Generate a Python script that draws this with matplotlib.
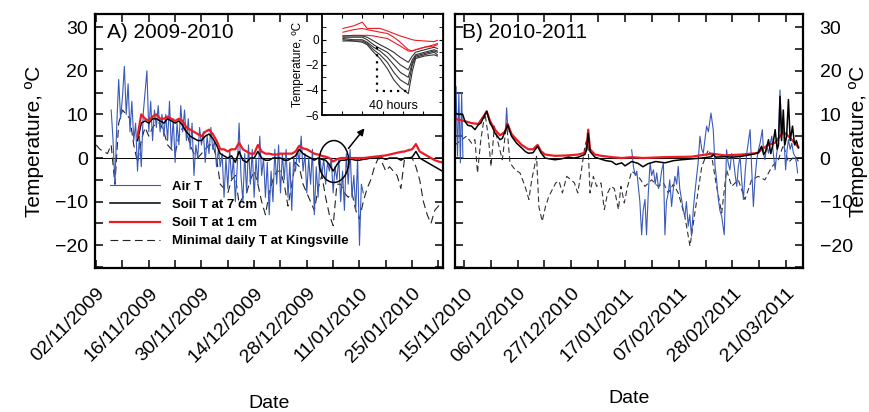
import numpy as np
import pandas as pd
import matplotlib
matplotlib.use('Agg')
import matplotlib.pyplot as plt
from matplotlib.patches import Ellipse
import matplotlib.dates as mdates

plt.rcParams['font.family'] = ['Liberation Sans', 'DejaVu Sans']

# ---------------- panel A, 2009-2010 (days from 02/11/2009)
start_a = pd.Timestamp('2009-11-02')
air_a_first = 4.0      # air T read every half day from here
air_a = [11, 4, -6, 8, 18, 9, 14, 21, 10, 17,
         6, 13, 4, 8, -3, 5, -2, 10, 15, 20,
         6, 13, 4, 11, 7, 12, 6, 10, 5, 10,
         4, 13, 2, 9, -1, 8, 3, 12, 6, 11,
         4, 9, 2, 8, -4, 3, 0, 7, 3, 6,
         -1, 5, 1, 7, 2, 4, -2, 2, -2, 1,
         -9, 0, -7, 2, -5, 0, -10, -2, 8, -4,
         -10, 1, -8, 3, -6, 2, -9, 0, -6, 5,
         -4, 0, -9, -1, -13, -3, -10, 2, -6, 3,
         -8, 1, -5, 2, -9, -1, -12, 0, -3, 2,
         -1, 5, -3, 1, -8, 0, -6, 2, -13, -2,
         -9, 0, -4, 0, -6, -1, -3, 0, -8, -2,
         -5, 0, -10, -3, -12, 1, -6, 2, -9, -4,
         -12, 0, -20, -6, -8]
soil_a_first = 11      # soil T read daily from here
soil1_a = [5, 10, 9, 8.5, 9.5, 10, 9, 9, 9.5, 9,
           8.5, 9, 8.5, 7, 6.5, 6, 5.5, 5, 6, 6.5,
           5.5, 4, 2, 2, 1.5, 2, 2, 3.5, 2, 1.5,
           1, 1, 3, 1.5, 1, 1, 0.8, 0.8, 1, 1,
           1, 1, 1.5, 2.8, 2.2, 2, 1.5, 1, 0.8, 0.5,
           0.3, 0, -0.8, -0.3, 0, 0, 0, 0, 0, 0,
           0, 0.1, 0.2, 0.3, 0.4, 0.5, 0.6, 0.8, 1, 1.2,
           1.4, 1.5, 1.8, 2, 3.2, 1.5, 1, 0.5, 0, -0.5,
           -0.8, -1]
soil7_a = [4, 8, 8.5, 8, 9, 9, 8.5, 8, 9, 8.5,
           8, 8.5, 7.5, 6, 5, 4.5, 4, 4, 5, 5.5,
           4.5, 3, 1, 0.5, 0, 0.5, -1, 1.5, -0.5, -1,
           0, 0, 1.5, 0, -0.5, -0.5, 0, 0, 0, -0.5,
           -0.5, 0, 0.5, 2, 1, 0.5, 0, -0.5, 0, -0.3,
           -0.5, -1.5, -3, -1.5, -0.5, -0.5, -0.3, -0.3, -0.5, -0.5,
           -0.3, -0.2, 0, 0, 0, 0, -0.3, 0, 0, 0,
           -0.5, 0, 0, 0.2, 1.5, 0, -0.5, -1, -1.5, -2,
           -2.5, -3]
kmin_a = [3, 2, 1.5, 1, 3, -6, 8, 11, 10, 9,
          3, -1, 4, 7, 5, 7, 8, 8, 6, 3,
          2, 1, 5, 7, 6, 3, 1, 0, 1, 2,
          3, 3, 0, -6, -7, -8, -5, -4, -10.5, -9,
          -8, -5, -3, -6, -10, -13, -8, -5, -3, -3,
          -6, -11, -6, -1, -2, -6, -8, -10, -12, -7,
          -4, -9, -13, -15.5, -6, -6, -8, -9, -8, -12,
          -14, -10, -7, -5, -2, 0, -1, -3, -2, -3,
          -4, -7, 0, 0, 0, -2, -5, -10, -13, -15,
          -12, -11, -10]

# ---------------- panel B, 2010-2011 (days from 15/11/2010)
start_b = pd.Timestamp('2010-11-15')
air_b_day = [-3.5, -3.1, -2.5, -2.0, -1.4, -0.9, -0.4, np.nan,
             16.2, 16.7, 17.2, np.nan,
             65.6, 66.3, 67.0, 67.6, 68.2, 68.8, 69.5, 70.1, 70.8, 71.4,
             72.1, 72.8, 73.4, 74.1, 74.8, 75.4, 76.1, 76.7, 77.3, 78.0,
             78.6, 79.2, 79.9, 80.5, 81.2, 81.9, 82.5, 83.2, 83.8, 84.4,
             85.1, 85.8, 86.4, 87.0, 87.7, 88.3, 89.0, 89.7, 90.3, 91.0,
             91.6, 92.3, 93.0, 93.6, 94.2, 94.9, 95.6, 96.6, 97.5, 98.2,
             98.8, 99.5, 100.1, 100.8, 101.8, 102.7, 103.3, 104.0, 104.7, 105.4,
             106.1, 106.7, 107.3, 108.0, 108.6, 109.3, 110.0, 110.6, 111.3, 111.9,
             112.5, 113.2, 113.8, 114.5, 115.2, 115.8, 116.7, 117.2, 117.7, 118.4,
             119.1, 119.7, 120.4, 121.0, 121.7, 122.3, 123.0, 123.6, 124.2, 124.9,
             125.4, 125.8, 126.4, 126.9, 127.6, 128.2, 128.9, 129.5, 130.0, 130.5]
air_b = [10, 16.4, 0.4, 14.9, -1.1, 15, 0, np.nan,
         6, 11.5, 6, np.nan,
         1.9, -2, -4, -3, -6.5, -10, -17.6, -12, -9.5, -17.6,
         -8, -1.1, -4, -2.7, -6, -3.4, -7, -5.7, -3, -1.1,
         -17.6, -10, -8, -5, -11.1, -7, -4.2, -6, -1.9, -7,
         -9.5, -12, -13.4, -10, -15.6, -13, -17.9, -11.8, -8, -4.2,
         -1, 5, 2, 1.1, 4, 7.3, 6, 10.3, 6.5, -1.9,
         -5, -9.5, -12, -13.4, -17.6, 1.9, -1, -2.7, 1, -0.4,
         -4, -6.5, -2, 0.4, -5, -9.5, -3, 1.1, 4, 6.5,
         -2, -11.1, -5, -0.4, 2, 3.4, 6.5, 1, -0.4, 3,
         1.1, 3, 5, 1, -2.7, 1, 3.4, 15.6, 8, 7.3,
         2, -2.7, 2, 4.2, 2, 3.4, 1, 0.4, -1, -3.4]
soil7_b_day = [-3.5, -2.0, -0.5, 0.4, 1.5, 3.0, 4.3, 5.6, 6.6, 7.6,
               8.9, 10.2, 11.2, 12.1, 13.1, 14.1, 15.0, 16.0, 17.1, 18.6,
               20.6, 22.6, 24.0, 25.2, 27.0, 28.8, 30.1, 31.7, 33.5, 35.6,
               38.0, 40.8, 43.0, 44.7, 46.0, 47.3, 48.0, 48.6, 49.3, 51.2,
               53.8, 55.5, 57.8, 59.5, 61.7, 63.0, 65.6, 68.0, 70.0, 72.0,
               75.0, 78.6, 82.0, 85.0, 89.0, 93.0, 96.9, 97.5, 98.5, 102.0,
               105.0, 108.6, 110.5, 112.5, 114.0, 115.1, 116.4, 117.2, 118.0, 119.1,
               120.0, 120.8, 121.7, 122.5, 123.0, 123.6, 124.2, 124.9, 125.5, 126.2,
               126.9, 127.6, 128.5, 129.3, 130.0, 130.8]
soil7_b = [10.3, 10, 10, 8.4, 7.5, 7.3, 6.5, 7.6, 8, 9.2,
           10.7, 8, 7, 5.7, 5, 4.2, 4.5, 6, 7.6, 5,
           3.4, 2.3, 1.5, 1.1, 1.2, 2.7, 1.2, 0, -0.2, -0.4,
           -0.2, 0.2, 0, 0.2, 0.5, 0.8, 2, 5.7, 1.5, 0.2,
           -0.3, -0.6, -0.8, -1.5, -1.1, -1.8, -0.8, -1.2, -2, -1.3,
           -0.8, -1.1, -0.6, -0.4, -0.2, 0, 0.3, 0.8, 0.2, 0.3,
           0.2, 0.4, 0.6, 0.8, 1, 1.2, 2.7, 0.8, 1.5, 4.2,
           1, 3, 6.5, 2, 3, 14.1, 4, 11, 3, 5,
           13.4, 4, 7.3, 3, 4, 2.3]
soil1_b_day = [-3.5, 0, 3.0, 5.6, 7.6, 8.9, 10.2, 12.1, 14.1, 16.0,
               17.1, 18.6, 20.6, 22.6, 25.2, 27.0, 28.8, 30.1, 31.7, 35.6,
               40.8, 44.7, 47.3, 48.0, 48.6, 49.3, 51.2, 53.8, 57.8, 61.7,
               65.6, 70.0, 78.6, 89.0, 96.9, 102.0, 108.6, 112.5, 115.1, 116.4,
               119.1, 121.7, 123.6, 124.9, 126.9, 128.5, 130.8]
soil1_b = [9, 8.5, 8, 7.8, 9.5, 10.7, 8.5, 6.5, 5.2, 6,
           7.8, 5.5, 4.2, 3, 2, 2, 3, 1.6, 0.8, 0.5,
           0.6, 0.8, 1.2, 2.5, 6.5, 2, 0.8, 0.5, 0.2, 0,
           0.2, 0, 0.2, 0.3, 1, 0.6, 0.8, 1, 1.2, 2,
           3, 3.5, 5, 6, 5, 4, 2.5]
kmin_b_day = [-3.5, -0.9, 1.0, 3.0, 4.3, 5.3, 6.6, 8.2, 9.5, 10.6,
              11.9, 13.4, 15.0, 16.7, 18.0, 20.0, 21.9, 23.9, 25.4, 26.5,
              28.4, 29.3, 30.6, 31.9, 33.2, 34.5, 35.9, 37.2, 38.5, 40.2,
              41.9, 43.2, 44.5, 45.8, 47.3, 48.4, 49.3, 50.6, 51.9, 53.6,
              54.9, 56.2, 57.5, 58.8, 60.4, 61.4, 62.7, 64.0, 65.6, 68.2,
              70.8, 73.4, 76.0, 78.0, 79.9, 81.9, 83.8, 86.4, 88.4, 90.3,
              93.0, 95.6, 96.9, 98.8, 100.8, 102.7, 104.7, 107.3, 109.9, 112.5,
              115.1, 117.7, 120.4, 123.0, 124.9, 126.9, 129.5, 131.0]
kmin_b = [3, 4.2, 5, 3.4, 4.2, -3.4, 4.2, 10.3, 5, -1.9,
          7.3, 3.4, -0.4, 8, -1.1, -2.7, -3.4, -6.5, -9.5, -5,
          0.4, -11.1, -14.5, -11.1, -8.8, -7.3, -5.7, -5.3, -8, -4.2,
          -5, -5.7, -8, -3.4, 2.7, 5, -8, -4.2, -6.5, -5.7,
          -11.8, -8, -6.5, -7, -11.8, -6.5, -10.3, -6.5, -3, -4.2,
          -6.5, -5, -6.5, -5.7, -8, -6, -8, -13.4, -20.2, -12.6,
          -2, 1.9, 0.4, -6.5, -12.6, -2.7, -6.5, -5, -9.5, -5,
          -4.2, -5, -2, -0.4, 3, -1, 0.5, -1]

# ---------------- inset: freezing event, hours
inset_h = [26, 39, 50, 56, 64, 72, 81, 89, 97, 107, 112, 116, 127, 139, 143]
inset_black = [
    [-0.1, -0.1, -0.2, -0.4, -1.0, -1.5, -2.3, -3.2, -3.8, -4.3, -2.5, -1.5, -1.3, -1.2, -1.3],
    [0.0, -0.1, -0.1, -0.3, -0.8, -1.2, -1.8, -2.6, -3.2, -3.6, -2.0, -1.4, -1.2, -1.0, -1.2],
    [0.1, 0.0, 0.0, -0.2, -0.6, -0.9, -1.4, -2.0, -2.6, -3.0, -1.8, -1.3, -1.1, -0.9, -1.0],
    [0.2, 0.2, 0.2, 0.0, -0.4, -0.7, -1.0, -1.5, -2.0, -2.4, -1.6, -1.2, -1.0, -0.8, -0.9],
    [0.3, 0.3, 0.3, 0.2, -0.1, -0.4, -0.7, -1.0, -1.4, -1.8, -1.3, -1.0, -0.8, -0.6, -0.7],
]
inset_red = [
    [0.9, 1.1, 1.4, 0.9, 0.9, 0.9, 0.7, 0.5, 0.3, 0.1, 0.0, -0.05, -0.1, -0.15, -0.05],
    [0.6, 0.8, 0.9, 0.8, 0.7, 0.6, 0.5, 0.2, -0.2, -0.8, -0.9, -0.8, -0.6, -0.4, -0.3],
    [0.3, 0.35, 0.35, 0.35, 0.3, 0.2, 0.1, -0.2, -0.5, -0.9, -0.9, -0.8, -0.6, -0.5, -0.4],
]

ticks_a = pd.date_range('2009-11-02', periods=7, freq='14D')
ticks_b = pd.date_range('2010-11-15', periods=7, freq='21D')

blue = '#3a5ab8'
red = '#ec1c24'


def to_dates(start, days):
    return start + pd.to_timedelta(np.asarray(days, dtype=float), unit='D')


W, H = 869, 412
fig = plt.figure(figsize=(W / 100, H / 100), dpi=100)
axA = fig.add_axes([95 / W, 1 - 268 / H, 348 / W, 254 / H])
axB = fig.add_axes([455 / W, 1 - 268 / H, 348 / W, 254 / H])

dash = (0, (7, 4))

# panel A
xa_air = to_dates(start_a, air_a_first + 0.5 * np.arange(len(air_a)))
xa_soil = to_dates(start_a, soil_a_first + np.arange(len(soil1_a)))
xa_min = to_dates(start_a, np.arange(len(kmin_a)))
axA.axhline(0, color='k', lw=0.7, zorder=1)
l_min, = axA.plot(xa_min, kmin_a, color='#222222', lw=0.8, ls=dash,
                  label='Minimal daily T at Kingsville')
l_air, = axA.plot(xa_air, air_a, color=blue, lw=0.8, label='Air T')
l_s7, = axA.plot(xa_soil, soil7_a, color='k', lw=1.1, label='Soil T at 7 cm')
l_s1, = axA.plot(xa_soil, soil1_a, color=red, lw=1.6, label='Soil T at 1 cm')

# panel B
axB.axhline(0, color='k', lw=0.7, zorder=1)
axB.plot(to_dates(start_b, kmin_b_day), kmin_b, color='#333333', lw=0.8, ls=(0, (5, 3)))
axB.plot(to_dates(start_b, air_b_day), air_b, color=blue, lw=0.8)
axB.plot(to_dates(start_b, soil1_b_day), soil1_b, color=red, lw=1.6)
axB.plot(to_dates(start_b, soil7_b_day), soil7_b, color='k', lw=1.1)

for ax, start, lo, hi, ticks, minor in [
        (axA, start_a, -0.3, 92.2, ticks_a, '7D'),
        (axB, start_b, -3.5, 132.6, ticks_b, '252h')]:
    ax.set_xticks(ticks)
    ax.set_xticks(pd.date_range(ticks[0] - pd.Timedelta(minor) * 2, ticks[-1] + pd.Timedelta(minor) * 2,
                                freq=minor), minor=True)
    ax.set_xticklabels([t.strftime('%d/%m/%Y') for t in ticks], rotation=45,
                       ha='right', rotation_mode='anchor', fontsize=14)
    ax.set_yticks([-20, -10, 0, 10, 20, 30])
    ax.set_yticks(np.arange(-25, 35, 5), minor=True)
    ax.set_xlim(start + pd.Timedelta(days=lo), start + pd.Timedelta(days=hi))
    ax.set_ylim(-25.2, 33)
    ax.tick_params(which='both', direction='in', top=True, right=True, length=6, width=1.1,
                   labelsize=14)
    ax.tick_params(axis='x', which='both', pad=12)
    for s in ax.spines.values():
        s.set_linewidth(1.6)
    ax.set_xlabel('Date', fontsize=14)

axA.tick_params(axis='y', pad=5)
axB.tick_params(axis='y', labelleft=False, labelright=True, pad=12)
axA.xaxis.set_label_coords(0.5, -0.5)
axB.xaxis.set_label_coords(0.5, -0.48)

axA.text(0.035, 0.965, 'A) 2009-2010', transform=axA.transAxes, fontsize=15, va='top')
axB.text(0.02, 0.965, 'B) 2010-2011', transform=axB.transAxes, fontsize=15, va='top')

fig.text(35 / W, 1 - 141 / H, 'Temperature, ºC', rotation=90, fontsize=15, ha='center', va='center')
fig.text(859 / W, 1 - 141 / H, 'Temperature, ºC', rotation=90, fontsize=15, ha='center', va='center')

axA.legend(handles=[l_air, l_s7, l_s1, l_min], loc='lower left', bbox_to_anchor=(0.025, 0.055),
           frameon=False, prop={'weight': 'bold', 'size': 9.5}, handlelength=3.8,
           handletextpad=0.9, labelspacing=0.45, borderpad=0)

# circle around freezing event and arrow to the inset
cx = mdates.date2num(start_a + pd.Timedelta(days=63.2))
axA.add_patch(Ellipse((cx, -0.8), 7.9, 9.6, fill=False, color='k', lw=1.1, zorder=5))
axA.annotate('', xy=(start_a + pd.Timedelta(days=71.8), 7.3),
             xytext=(start_a + pd.Timedelta(days=66.6), 1.7),
             arrowprops=dict(arrowstyle='-|>', color='k', lw=1.1, mutation_scale=10))

# inset
axI = fig.add_axes([322 / W, 1 - 115 / H, 121 / W, 101 / H])
axI.set_zorder(10)
for ys in inset_red:
    axI.plot(inset_h, ys, color=red, lw=0.8)
for ys in inset_black:
    axI.plot(inset_h, ys, color='#333333', lw=0.8)
axI.plot([68, 68, 108], [-0.6, -4.05, -4.05], color='k', lw=1.6, ls=(0, (1, 2.2)))
axI.text(88, -5.3, '40 hours', fontsize=9, ha='center', va='center')
axI.set_xlim(0, 150)
axI.set_ylim(-6, 2.05)
axI.set_xticks([25, 50, 75, 100, 125])
axI.set_xticklabels([])
axI.set_yticks([-6, -4, -2, 0])
axI.set_yticks([-5, -3, -1, 1], minor=True)
axI.tick_params(which='both', direction='in', top=True, right=True, length=3, labelsize=8.5, pad=2)
axI.set_ylabel('Temperature, ºC', fontsize=8.5, labelpad=1)
for s in axI.spines.values():
    s.set_linewidth(1.3)

fig.savefig('out.png', dpi=100)
